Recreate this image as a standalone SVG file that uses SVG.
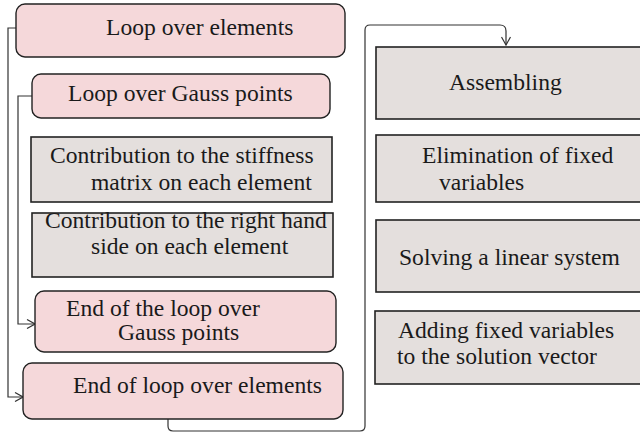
<svg xmlns="http://www.w3.org/2000/svg" width="640" height="434" viewBox="0 0 640 434">
<style>
.pink{fill:#f5d8da;stroke:#222;stroke-width:1.4}
.gray{fill:#e4dfdd;stroke:#222;stroke-width:1.6}
.t{font-family:"Liberation Serif","Times New Roman","DejaVu Serif",serif;font-size:23.6px;fill:#1a1a1a}
.c{fill:none;stroke:#333;stroke-width:1.2}
</style>
<defs>
<marker id="ah" viewBox="0 0 10 10" refX="9" refY="5" markerWidth="10" markerHeight="10" markerUnits="userSpaceOnUse" orient="auto">
<path d="M1,0.5 L9,5 L1,9.5" fill="none" stroke="#333" stroke-width="1.2"/>
</marker>
</defs>
<rect width="640" height="434" fill="#fff"/>
<g id="connectors">
<path class="c" d="M16,28 H8 V397 H23" marker-end="url(#ah)"/>
<path class="c" d="M32,96 H18 V324 H35" marker-end="url(#ah)"/>
<path class="c" d="M168,419 V426 Q168,431 173,431 H360 Q365,431 365,426 V30 Q365,25 370,25 H500 Q506,25 506,31 V45" marker-end="url(#ah)"/>
</g>
<g id="n1"><rect class="pink" x="16" y="4" width="329" height="53" rx="9"/><text class="t" x="106" y="35">Loop over elements</text></g>
<g id="n2"><rect class="pink" x="32" y="74" width="298" height="44" rx="9"/><text class="t" x="68" y="101">Loop over Gauss points</text></g>
<g id="n3"><rect class="gray" x="31" y="137" width="301" height="65"/><text class="t" x="50" y="163">Contribution to the stiffness</text><text class="t" x="91" y="190">matrix on each element</text></g>
<g id="n4"><rect class="gray" x="32" y="213" width="301" height="64"/><text class="t" x="45" y="228">Contribution to the right hand</text><text class="t" x="91" y="254">side on each element</text></g>
<g id="n5"><rect class="pink" x="35" y="291" width="301" height="61" rx="9"/><text class="t" x="66" y="316">End of the loop over</text><text class="t" x="118" y="340">Gauss points</text></g>
<g id="n6"><rect class="pink" x="23" y="363" width="320" height="56" rx="9"/><text class="t" x="73" y="393">End of loop over elements</text></g>
<g id="n7"><rect class="gray" x="376" y="47" width="280" height="72"/><text class="t" x="449" y="90">Assembling</text></g>
<g id="n8"><rect class="gray" x="376" y="135" width="280" height="67"/><text class="t" x="422" y="163">Elimination of fixed</text><text class="t" x="439" y="190">variables</text></g>
<g id="n9"><rect class="gray" x="376" y="220" width="280" height="72"/><text class="t" x="399" y="265">Solving a linear system</text></g>
<g id="n10"><rect class="gray" x="375" y="311" width="280" height="73"/><text class="t" x="398" y="338">Adding fixed variables</text><text class="t" x="397" y="364">to the solution vector</text></g>
</svg>
